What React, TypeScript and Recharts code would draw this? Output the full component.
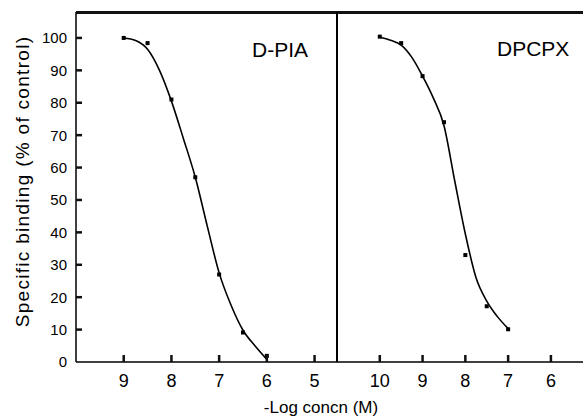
import { ComposedChart, Line, Scatter, XAxis, YAxis } from "recharts";

// shared y axis
const yTicks = [0, 10, 20, 30, 40, 50, 60, 70, 80, 90, 100];
const yMax = 108;

// D-PIA panel
const dpiaTicks = [9, 8, 7, 6, 5];
const dpiaConc = [9, 8.5, 8, 7.5, 7, 6.5, 6];
const dpiaBinding = [100, 98.4, 81, 57, 27, 9.1, 1.9];
const dpiaFitConc = [9, 8.75, 8.5, 8.25, 8, 7.75, 7.5, 7.25, 7, 6.75, 6.5, 6.25, 6];
const dpiaFitBinding = [100, 99.2, 96.5, 90, 80.5, 69, 57, 42, 27.5, 17.5, 9.8, 5, 0.8];

// DPCPX panel
const dpcpxTicks = [10, 9, 8, 7, 6];
const dpcpxConc = [10, 9.5, 9, 8.5, 8, 7.5, 7];
const dpcpxBinding = [100.4, 98.4, 88.2, 74, 33, 17.2, 10.1];
const dpcpxFitConc = [10, 9.75, 9.5, 9.25, 9, 8.75, 8.5, 8.25, 8, 7.75, 7.5, 7.25, 7];
const dpcpxFitBinding = [100.2, 99.3, 97.8, 94, 88.2, 81.5, 73, 56, 39.5, 26, 18.8, 14, 10.3];

const toPoints = (xs: number[], ys: number[]) => xs.map((x, i) => ({ x, y: ys[i] }));

const font = "'Liberation Sans', Arial, Helvetica, sans-serif";

const Square = (props: any) => {
  const { cx, cy } = props;
  if (cx == null || cy == null) return null;
  return <rect x={cx - 2} y={cy - 2} width={4} height={4} fill="#000" />;
};

// ticks point inward, labels outside
const BottomTick = ({ x, y, payload }: any) => (
  <g>
    <line x1={x} x2={x} y1={y} y2={y - 7} stroke="#111" strokeWidth={2.5} />
    <text x={x} y={y + 25} textAnchor="middle" fontSize={18} fontFamily={font} fill="#000">
      {payload.value}
    </text>
  </g>
);

const LeftTick = ({ x, y, payload }: any) => (
  <g>
    {payload.value > 0 && <line x1={x} x2={x + 6} y1={y} y2={y} stroke="#111" strokeWidth={2.5} />}
    <text x={x - 9} y={y} dy="0.36em" textAnchor="end" fontSize={15} fontFamily={font} fill="#000">
      {payload.value}
    </text>
  </g>
);

const CrossTick = ({ x, y, payload }: any) =>
  payload.value > 0 ? <line x1={x - 6} x2={x + 7} y1={y} y2={y} stroke="#111" strokeWidth={2.5} /> : <g />;

const axisLine = { stroke: "#000", strokeWidth: 1.5 };

const textStyle = { position: "absolute" as const, fontFamily: font, color: "#000", whiteSpace: "nowrap" as const };

export default function App() {
  const dpiaPts = toPoints(dpiaConc, dpiaBinding);
  const dpiaFit = toPoints(dpiaFitConc, dpiaFitBinding);
  const dpcpxPts = toPoints(dpcpxConc, dpcpxBinding);
  const dpcpxFit = toPoints(dpcpxFitConc, dpcpxFitBinding);

  return (
    <div style={{ position: "absolute", left: 0, top: 0, width: 583, height: 416, background: "#fff", fontFamily: font }}>
      {/* top frame line */}
      <div style={{ position: "absolute", left: 76, top: 11, width: 507, height: 3, background: "#111" }} />
      <div style={{ position: "absolute", left: 0, top: 0 }}>
        <ComposedChart width={340} height={416} margin={{ top: 12, right: 2, left: 16, bottom: 24 }}>
          <XAxis
            type="number"
            dataKey="x"
            domain={[4.53, 10]}
            reversed
            allowDataOverflow
            ticks={dpiaTicks}
            interval={0}
            height={30}
            tickSize={0}
            tickMargin={0}
            tick={BottomTick}
            tickLine={false}
            axisLine={axisLine}
          />
          <YAxis
            type="number"
            domain={[0, yMax]}
            ticks={yTicks}
            interval={0}
            width={60}
            tickSize={0}
            tickMargin={0}
            tick={LeftTick}
            tickLine={false}
            axisLine={axisLine}
          />
          <YAxis
            yAxisId="div"
            orientation="right"
            type="number"
            domain={[0, yMax]}
            ticks={yTicks}
            interval={0}
            width={1}
            tickSize={0}
            tickMargin={0}
            tick={CrossTick}
            tickLine={false}
            axisLine={{ stroke: "#000", strokeWidth: 2 }}
          />
          <Line data={dpiaFit} dataKey="y" type="monotone" stroke="#000" strokeWidth={1.6} dot={false} activeDot={false} isAnimationActive={false} />
          <Scatter data={dpiaPts} dataKey="y" shape={Square} isAnimationActive={false} />
        </ComposedChart>
      </div>
      <div style={{ position: "absolute", left: 330, top: 0 }}>
        <ComposedChart width={253} height={416} margin={{ top: 12, right: 0, left: 7, bottom: 24 }}>
          <XAxis
            type="number"
            dataKey="x"
            domain={[5.25, 11]}
            reversed
            allowDataOverflow
            ticks={dpcpxTicks}
            interval={0}
            height={30}
            tickSize={0}
            tickMargin={0}
            tick={BottomTick}
            tickLine={false}
            axisLine={axisLine}
          />
          <YAxis type="number" domain={[0, yMax]} hide />
          <Line data={dpcpxFit} dataKey="y" type="monotone" stroke="#000" strokeWidth={1.6} dot={false} activeDot={false} isAnimationActive={false} />
          <Scatter data={dpcpxPts} dataKey="y" shape={Square} isAnimationActive={false} />
        </ComposedChart>
      </div>
      <div style={{ ...textStyle, left: 252, top: 39, fontSize: 21, lineHeight: "21px" }}>D-PIA</div>
      <div style={{ ...textStyle, left: 497, top: 38, fontSize: 21, lineHeight: "21px" }}>DPCPX</div>
      <div style={{ ...textStyle, left: 221, width: 200, top: 398.5, fontSize: 17, lineHeight: "17px", textAlign: "center" }}>
        -Log concn (M)
      </div>
      <div
        style={{
          ...textStyle,
          left: -137.6,
          top: 171.5,
          width: 320,
          height: 19,
          fontSize: 19,
          lineHeight: "19px",
          letterSpacing: 1.3,
          textAlign: "center",
          transform: "rotate(-90deg)",
        }}
      >
        Specific binding (% of control)
      </div>
    </div>
  );
}
